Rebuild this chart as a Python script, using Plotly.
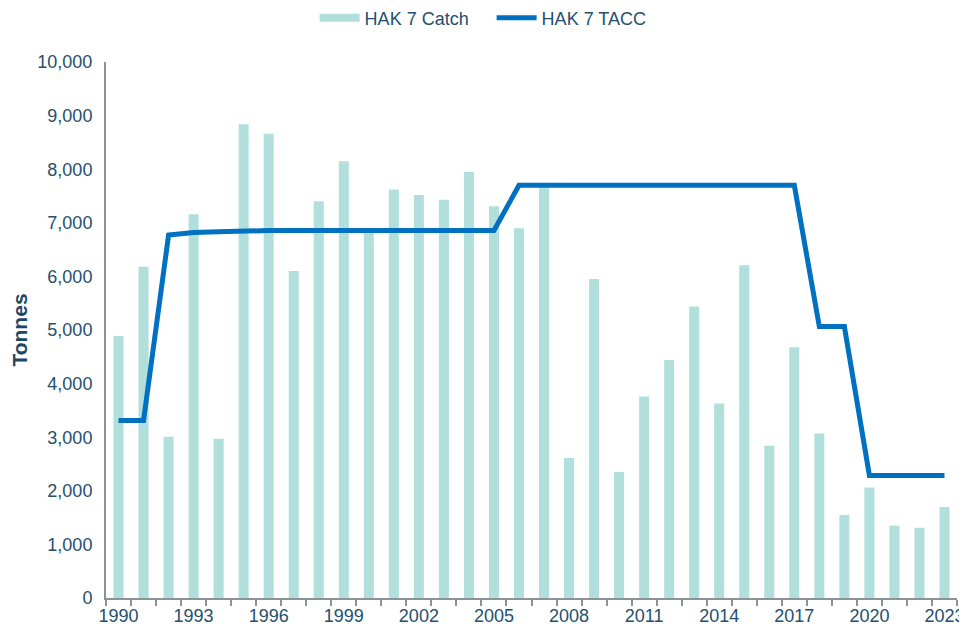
import plotly.graph_objects as go

years = list(range(1990, 2024))
catch = [4890, 6180, 3010, 7160, 2970, 8840, 8660, 6100, 7400, 8150,
         6810, 7620, 7520, 7430, 7950, 7310, 6900, 7660, 2610, 5950,
         2350, 3760, 4440, 5440, 3630, 6210, 2840, 4680, 3070, 1550,
         2060, 1350, 1310, 1700]
tacc = [3310, 3310, 6770, 6820, 6835, 6855, 6855, 6855, 6855, 6855,
        6855, 6855, 6855, 6855, 6855, 6855, 7700, 7700, 7700, 7700,
        7700, 7700, 7700, 7700, 7700, 7700, 7700, 7700, 5064, 5064,
        2285, 2285, 2285, 2285]
y_ticks = list(range(0, 10001, 1000))
x_labels = list(range(1990, 2024, 3))

text_col = "#24506E"
axis_col = "#8A939C"
bar_col = "#B1DFDB"
line_col = "#0070C0"
font_family = "Liberation Sans, Arial, sans-serif"

fig = go.Figure()
fig.add_trace(go.Bar(x=years, y=catch, name="HAK 7 Catch", showlegend=False,
                     marker=dict(color=bar_col, line=dict(width=0))))
# legend-only entry so the catch swatch is a wide block as in the original
fig.add_trace(go.Scatter(x=[None], y=[None], name="HAK 7 Catch", mode="lines",
                         line=dict(color=bar_col, width=8)))
fig.add_trace(go.Scatter(x=years, y=tacc, name="HAK 7 TACC", mode="lines",
                         line=dict(color=line_col, width=5)))

fig.update_layout(
    width=959, height=622,
    margin=dict(l=98, r=10, t=54, b=32, autoexpand=False),
    paper_bgcolor="white", plot_bgcolor="white",
    bargap=0.6,
    font=dict(family=font_family, size=18, color=text_col),
    legend=dict(orientation="h", xref="container", yref="container",
                x=0.5043, xanchor="center", y=0.984, yanchor="middle",
                font=dict(size=18, color=text_col), itemwidth=40,
                entrywidth=122, tracegroupgap=0),
    showlegend=True,
)
fig.update_xaxes(
    automargin=False,
    range=[years[0] - 0.5, years[-1] + 0.5],
    tickvals=x_labels, ticktext=[str(v) for v in x_labels],
    ticks="", showgrid=False, zeroline=False,
    showline=True, linecolor=axis_col, linewidth=2,
    ticklabeloverflow="allow",
    tickfont=dict(size=18, color=text_col),
    minor=dict(tickvals=[y - 0.5 for y in years] + [years[-1] + 0.5],
               ticks="outside", ticklen=6, tickwidth=2, tickcolor=axis_col, showgrid=False),
)
fig.update_yaxes(
    automargin=False,
    range=[0, 10000], tickvals=y_ticks, tickformat=",",
    showgrid=False, zeroline=False,
    showline=True, linecolor=axis_col, linewidth=2,
    ticks="", ticklabelstandoff=8,
    tickfont=dict(size=18, color=text_col),
    title=dict(text="<b>Tonnes</b>", font=dict(size=21, color="#1C4766"), standoff=8),
)
fig.write_html("out.html")
